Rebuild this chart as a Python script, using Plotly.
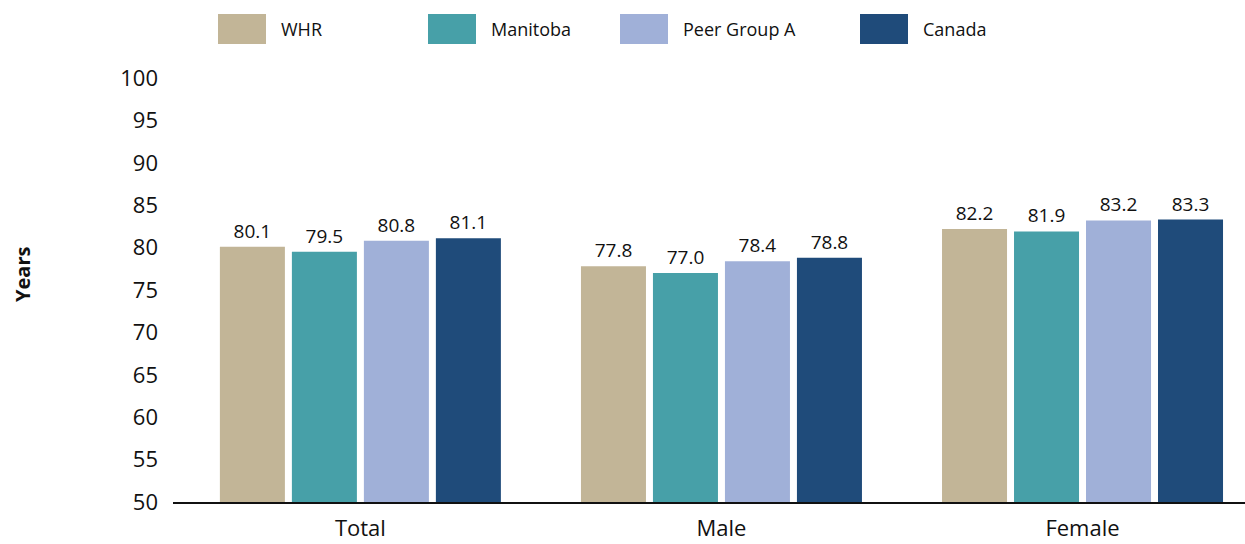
import plotly.graph_objects as go

# Life expectancy (years) by sex and region
categories = ["Total", "Male", "Female"]
series_names = ["WHR", "Manitoba", "Peer Group A", "Canada"]
whr = [80.1, 77.8, 82.2]
manitoba = [79.5, 77.0, 81.9]
peer_group_a = [80.8, 78.4, 83.2]
canada = [81.1, 78.8, 83.3]
y_ticks = [50, 55, 60, 65, 70, 75, 80, 85, 90, 95, 100]

colors = ["#C2B597", "#47A0A8", "#A0B0D8", "#1F4B7A"]
values = [whr, manitoba, peer_group_a, canada]

W, H = 1245, 544
ML, MR, MT, MB = 173, 0, 78, 42
PW, PH = W - ML - MR, H - MT - MB
FONT = "Open Sans"

fig = go.Figure()
for name, vals, col in zip(series_names, values, colors):
    fig.add_trace(go.Bar(
        name=name, x=categories, y=vals, marker_color=col,
        marker_line_width=0,
        text=[f"{v:.1f}" for v in vals], textposition="outside",
        textfont=dict(family=FONT, size=19, color="#111111"),
        cliponaxis=False, showlegend=False,
    ))

def px_x(p):
    return (p - ML) / PW

def px_y(p):
    return (H - MB - p) / PH

# Legend row drawn as swatches + labels across the top
legend_x = [218, 428, 620, 860]
shapes, annotations = [], []
for name, col, lx in zip(series_names, colors, legend_x):
    shapes.append(dict(type="rect", xref="paper", yref="paper",
                       x0=px_x(lx), x1=px_x(lx + 48), y0=px_y(44), y1=px_y(14),
                       fillcolor=col, line_width=0))
    annotations.append(dict(text=name, xref="paper", yref="paper",
                            x=px_x(lx + 61), y=px_y(29), xanchor="left", yanchor="middle",
                            showarrow=False, font=dict(family=FONT, size=18, color="#111111")))

annotations.append(dict(text="<b>Years</b>", xref="paper", yref="paper",
                        x=px_x(22), y=px_y(275), textangle=-90, showarrow=False,
                        xanchor="center", yanchor="middle",
                        font=dict(family=FONT, size=20, color="#111111")))

fig.update_layout(
    width=W, height=H,
    margin=dict(l=ML, r=MR, t=MT, b=MB, pad=0, autoexpand=False),
    barmode="group", bargap=0.2024, bargroupgap=0.097,
    plot_bgcolor="white", paper_bgcolor="white",
    shapes=shapes, annotations=annotations,
    xaxis=dict(range=[-0.519, 2.45], showgrid=False, showline=True,
               linecolor="#111111", linewidth=1.5, ticks="", automargin=False,
               tickfont=dict(family=FONT, size=22, color="#111111"),
               ticklabelstandoff=6),
    yaxis=dict(range=[50, 100], tickvals=y_ticks, showgrid=False, zeroline=False,
               showline=False, ticks="", automargin=False,
               tickfont=dict(family=FONT, size=22, color="#111111"),
               ticklabelstandoff=14),
)

fig.write_html("out.html")
